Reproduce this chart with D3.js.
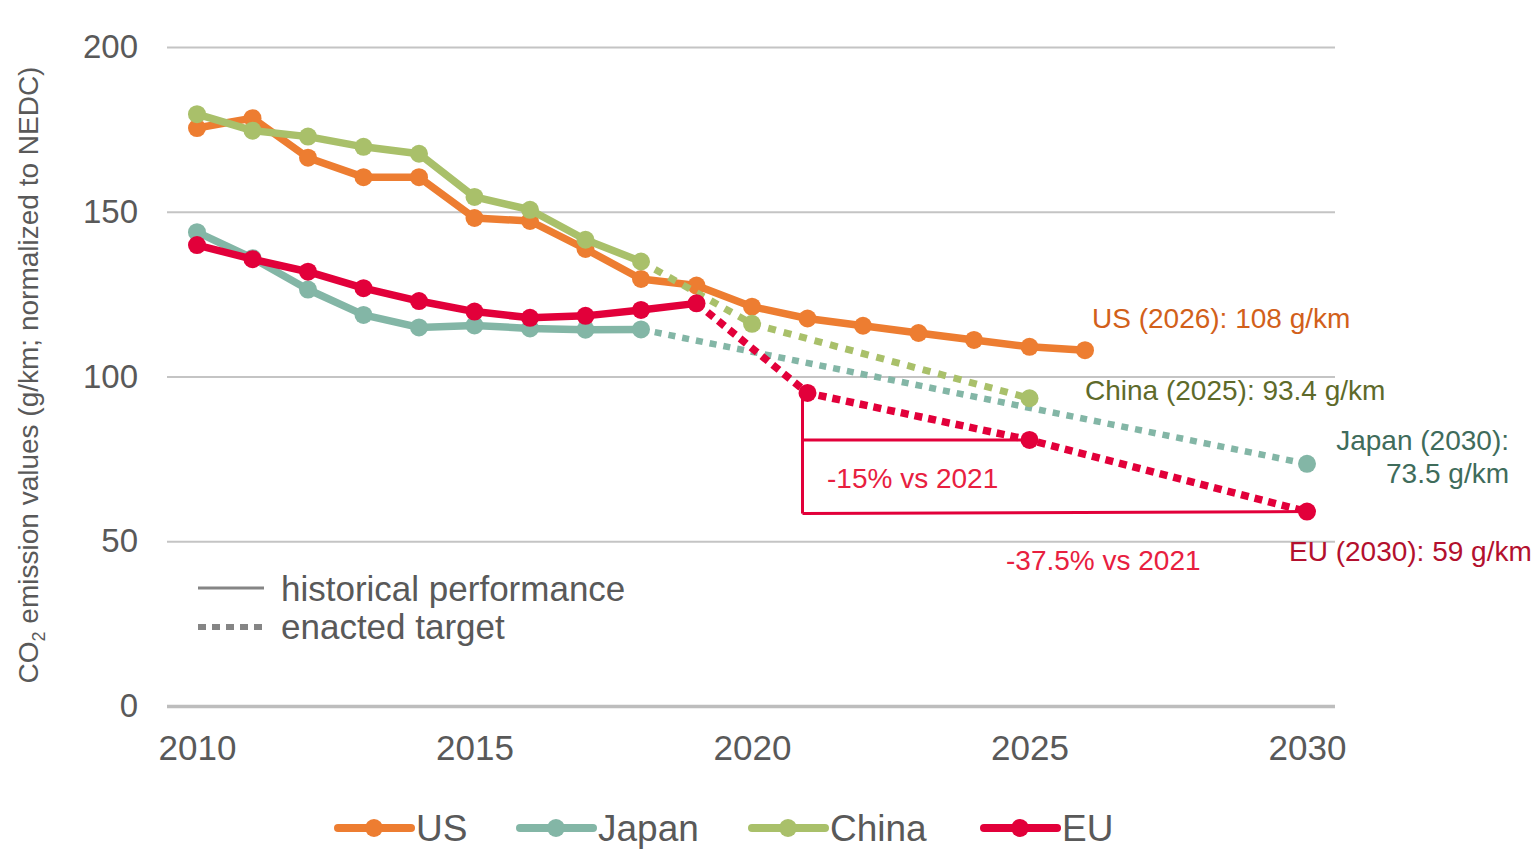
<!DOCTYPE html>
<html>
<head>
<meta charset="utf-8">
<script src="https://cdn.jsdelivr.net/npm/d3@7"></script>
<style>
  html, body { margin: 0; padding: 0; background: #ffffff; }
  svg { display: block; font-family: "Liberation Sans", Arial, sans-serif; }
</style>
</head>
<body>
<svg id="chart" width="1537" height="865"></svg>
<script>
// ---- data ----
const usYears = [2010, 2011, 2012, 2013, 2014, 2015, 2016, 2017, 2018, 2019, 2020, 2021, 2022, 2023, 2024, 2025, 2026];
const usValues = [175.4, 178.4, 166.4, 160.5, 160.5, 148.1, 147.2, 138.7, 129.6, 127.6, 121.2, 117.6, 115.4, 113.2, 111.1, 109.0, 108];

const japanYears = [2010, 2011, 2012, 2013, 2014, 2015, 2016, 2017, 2018];
const japanValues = [143.8, 135.9, 126.4, 118.7, 114.9, 115.5, 114.6, 114.2, 114.3];
const japanTargetYears = [2030];
const japanTargetValues = [73.5];

const chinaYears = [2010, 2011, 2012, 2013, 2014, 2015, 2016, 2017, 2018];
const chinaValues = [179.6, 174.6, 172.8, 169.7, 167.6, 154.5, 150.6, 141.5, 134.9];
const chinaTargetYears = [2020, 2025];
const chinaTargetValues = [116, 93.4];

const euYears = [2010, 2011, 2012, 2013, 2014, 2015, 2016, 2017, 2018, 2019];
const euValues = [139.9, 135.6, 131.8, 126.8, 122.9, 119.7, 117.8, 118.4, 120.2, 122.2];
const euTargetYears = [2021, 2025, 2030];
const euTargetValues = [95, 80.75, 59];

const yTicks = [0, 50, 100, 150, 200];
const xTicks = [2010, 2015, 2020, 2025, 2030];

const seriesNames = ["US", "Japan", "China", "EU"];
const seriesColors = { US: "#ED7D31", Japan: "#83B6A6", China: "#A9C06A", EU: "#E2003A" };

const targetLabels = [
  { text: "US (2026): 108 g/km", color: "#D2601A" },
  { text: "China (2025): 93.4 g/km", color: "#5E6A2A" },
  { text: "Japan (2030):", color: "#3F6C5B" },
  { text: "73.5 g/km", color: "#3F6C5B" },
  { text: "EU (2030): 59 g/km", color: "#B3102E" }
];
const reductionLabels = ["-15% vs 2021", "-37.5% vs 2021"];

// ---- scales ----
const svg = d3.select("#chart");
const x = d3.scaleLinear().domain([2010, 2030]).range([197, 1307]);
const y = d3.scaleLinear().domain([0, 200]).range([706, 47]);
const gridX0 = 167, gridX1 = 1335;
const textGray = "#595959";
const fontStack = "Liberation Sans, Arial, sans-serif";

// ---- grid ----
const yAxis = d3.axisLeft(y).tickValues(yTicks).tickSize(-(gridX1 - gridX0)).tickPadding(29);
const gy = svg.append("g").attr("transform", `translate(${gridX0},0)`).call(yAxis);
gy.select(".domain").remove();
gy.selectAll(".tick line").attr("stroke", "#c4c4c4").attr("stroke-width", 2);
gy.selectAll(".tick").filter(d => d === 0).select("line").attr("stroke", "#bdbdbd").attr("stroke-width", 3.5);
gy.selectAll(".tick text").attr("fill", textGray).attr("font-size", 33).attr("font-family", fontStack);

const xAxis = d3.axisBottom(x).tickValues(xTicks).tickFormat(d3.format("d")).tickSize(0).tickPadding(29);
const gx = svg.append("g").attr("transform", `translate(0,${y(0)})`).call(xAxis);
gx.select(".domain").remove();
gx.selectAll(".tick text").attr("fill", textGray).attr("font-size", 35).attr("font-family", fontStack);

// ---- y title ----
const yTitle = svg.append("text")
  .attr("transform", "translate(38,375) rotate(-90)")
  .attr("text-anchor", "middle")
  .attr("font-size", 28)
  .attr("fill", textGray);
yTitle.append("tspan").text("CO");
yTitle.append("tspan").text("2").attr("font-size", 18).attr("dy", 7);
yTitle.append("tspan").text(" emission values (g/km; normalized to NEDC)").attr("dy", -7);

// ---- series ----
const line = d3.line().x(d => x(d[0])).y(d => y(d[1]));
const zip = (xs, ys) => xs.map((v, i) => [v, ys[i]]);

const dotted = {
  Japan: { width: 6.5, dash: "7,7" },
  China: { width: 7, dash: "8,8" },
  EU: { width: 7.5, dash: "8,6" }
};

function drawSeries(name, hist, target) {
  const color = seriesColors[name];
  const g = svg.append("g");
  if (target.length) {
    const tgt = [hist[hist.length - 1]].concat(target);
    g.append("path").attr("d", line(tgt)).attr("fill", "none")
      .attr("stroke", color).attr("stroke-width", dotted[name].width)
      .attr("stroke-dasharray", dotted[name].dash);
  }
  g.append("path").attr("d", line(hist)).attr("fill", "none")
    .attr("stroke", color).attr("stroke-width", 7.5).attr("stroke-linejoin", "round");
  g.selectAll("circle.h").data(hist.concat(target)).join("circle")
    .attr("cx", d => x(d[0])).attr("cy", d => y(d[1])).attr("r", 9).attr("fill", color);
}

drawSeries("Japan", zip(japanYears, japanValues), zip(japanTargetYears, japanTargetValues));
drawSeries("US", zip(usYears, usValues), []);
drawSeries("China", zip(chinaYears, chinaValues), zip(chinaTargetYears, chinaTargetValues));
drawSeries("EU", zip(euYears, euValues), zip(euTargetYears, euTargetValues));

// ---- EU reduction brackets ----
const euRed = seriesColors.EU;
const bx = x(2021) - 5;
const b = svg.append("g").attr("stroke", euRed).attr("stroke-width", 3).attr("fill", "none");
b.append("line").attr("x1", bx).attr("x2", bx).attr("y1", y(euTargetValues[0])).attr("y2", y(euTargetValues[2]) + 2);
b.append("line").attr("x1", bx).attr("x2", x(2025)).attr("y1", y(euTargetValues[1])).attr("y2", y(euTargetValues[1]));
b.append("line").attr("x1", bx).attr("x2", x(2030)).attr("y1", y(euTargetValues[2]) + 2).attr("y2", y(euTargetValues[2]));

svg.append("text").attr("x", 827).attr("y", 488).attr("font-size", 28).attr("fill", "#E8203F").text(reductionLabels[0]);
svg.append("text").attr("x", 1006).attr("y", 570).attr("font-size", 28).attr("fill", "#E8203F").text(reductionLabels[1]);

// ---- end-point labels ----
svg.append("text").attr("x", 1092).attr("y", 328).attr("font-size", 28).attr("fill", targetLabels[0].color).text(targetLabels[0].text);
svg.append("text").attr("x", 1085).attr("y", 400).attr("font-size", 28).attr("fill", targetLabels[1].color).text(targetLabels[1].text);
svg.append("text").attr("x", 1509).attr("y", 450).attr("text-anchor", "end").attr("font-size", 28).attr("fill", targetLabels[2].color).text(targetLabels[2].text);
svg.append("text").attr("x", 1509).attr("y", 483).attr("text-anchor", "end").attr("font-size", 28).attr("fill", targetLabels[3].color).text(targetLabels[3].text);
svg.append("text").attr("x", 1289).attr("y", 561).attr("font-size", 28).attr("fill", targetLabels[4].color).text(targetLabels[4].text);

// ---- line-style key ----
const key = svg.append("g");
key.append("line").attr("x1", 198).attr("x2", 264).attr("y1", 588).attr("y2", 588)
  .attr("stroke", "#858585").attr("stroke-width", 3);
key.append("line").attr("x1", 198).attr("x2", 264).attr("y1", 627).attr("y2", 627)
  .attr("stroke", "#858585").attr("stroke-width", 6).attr("stroke-dasharray", "8,6");
key.append("text").attr("x", 281).attr("y", 601).attr("font-size", 35).attr("fill", textGray).text("historical performance");
key.append("text").attr("x", 281).attr("y", 639).attr("font-size", 35).attr("fill", textGray).text("enacted target");

// ---- series legend ----
const legendX = [338, 520, 752, 984];
const leg = svg.append("g").selectAll("g").data(seriesNames).join("g")
  .attr("transform", (d, i) => `translate(${legendX[i]},828)`);
leg.append("line").attr("x1", 0).attr("x2", 73).attr("y1", 0).attr("y2", 0)
  .attr("stroke", d => seriesColors[d]).attr("stroke-width", 8).attr("stroke-linecap", "round");
leg.append("circle").attr("cx", 36).attr("cy", 0).attr("r", 9).attr("fill", d => seriesColors[d]);
leg.append("text").attr("x", 78).attr("y", 13)
  .attr("font-size", 37).attr("fill", textGray)
  .text(d => d);
</script>
</body>
</html>
